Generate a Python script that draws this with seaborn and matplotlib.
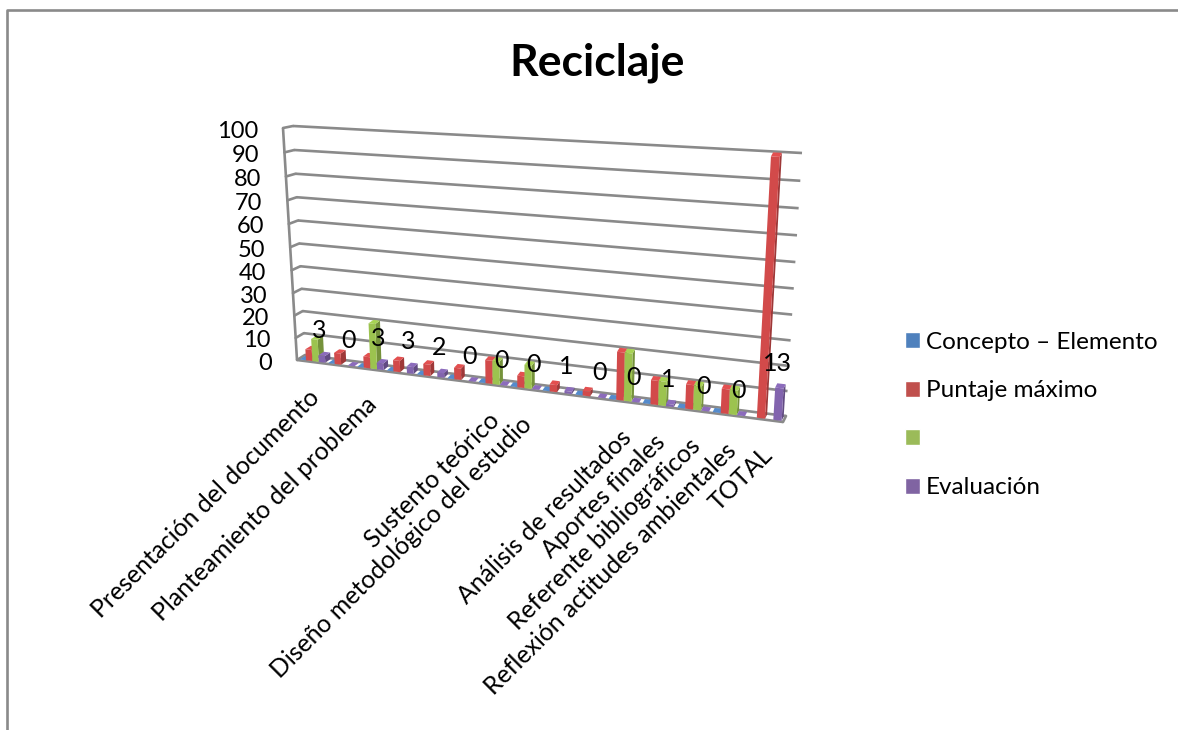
"""
Reciclaje: Excel-style 3D column chart, seaborn bars pushed through a perspective transform.
"""

import numpy as np
import pandas as pd
import seaborn as sns
import matplotlib.pyplot as plt
from matplotlib.lines import Line2D
from matplotlib.patches import Patch, Polygon
from matplotlib.transforms import IdentityTransform, Transform

WIDTH, HEIGHT = 1178, 730

titulo = "Reciclaje"
categorias = [
    "Presentación del documento", "", "Planteamiento del problema", "", "", "",
    "Sustento teórico", "Diseño metodológico del estudio", "", "",
    "Análisis de resultados", "Aportes finales", "Referente bibliográficos",
    "Reflexión actitudes ambientales", "TOTAL",
]
series = ["Concepto – Elemento", "Puntaje máximo", " ", "Evaluación"]
concepto = [0, 0, 0, 0, 0, 0, 0, 0, 0, 0, 0, 0, 0, 0, np.nan]
puntaje = [5, 5, 5, 5, 5, 5, 10, 5, 3, 2, 20, 10, 10, 10, 100]
sin_nombre = [10, np.nan, 20, np.nan, np.nan, np.nan, 10, 10, np.nan, np.nan,
              20, 10, 10, 10, np.nan]
evaluacion = [3, 0, 3, 3, 2, 0, 0, 0, 1, 0, 0, 1, 0, 0, 13]
valores_eje = [0, 10, 20, 30, 40, 50, 60, 70, 80, 90, 100]

colores_leyenda = ["#4F81BD", "#C0504D", "#9BBB59", "#8064A2"]
colores_barras = ["#4F81BD", "#D24A4A", "#9CC34F", "#8264AE"]
GRIS = "#8A8A8A"
ANCHO_GRUPO = 0.9

# pixel corners of the chart box: (bottom left, top left, top right, bottom right)
PLANO_FRENTE = [(297, 360), (283, 128), (799, 159), (783, 422)]
PLANO_FONDO = [(305, 355), (293, 126), (802, 153), (786, 416)]
N = len(categorias)


def homography(corners):
    """Matrix that sends the unit square to the four given pixel corners."""
    unit = [(0, 0), (0, 1), (1, 1), (1, 0)]
    a, b = [], []
    for (u, t), (px, py) in zip(unit, corners):
        a.append([u, t, 1, 0, 0, 0, -u * px, -t * px])
        a.append([0, 0, 0, u, t, 1, -u * py, -t * py])
        b += [px, py]
    return np.append(np.linalg.solve(np.array(a, float), np.array(b, float)), 1).reshape(3, 3)


class Perspectiva(Transform):
    """(category position, value) to display pixels, at a depth from 0 (front) to 1 (back)."""
    input_dims = 2
    output_dims = 2

    def __init__(self, profundidad):
        super().__init__()
        corners = (1 - profundidad) * np.array(PLANO_FRENTE, float) + profundidad * np.array(PLANO_FONDO, float)
        self.h = homography(corners)

    def transform_non_affine(self, values):
        values = np.asarray(values, float)
        u = (values[:, 0] + 0.5) / N
        t = values[:, 1] / 100
        p = self.h @ np.vstack([u, t, np.ones_like(u)])
        return np.column_stack([p[0] / p[2], HEIGHT - p[1] / p[2]])


def shade(color, factor):
    return tuple(min(1, c * factor) for c in color[:3])


sns.set_theme(style="white")
plt.rcParams["font.family"] = ["Lato", "DejaVu Sans"]

df = pd.DataFrame({"pos": range(N), series[0]: concepto, series[1]: puntaje,
                   series[2]: sin_nombre, series[3]: evaluacion})
long_df = df.melt(id_vars="pos", var_name="serie", value_name="valor")

fig = plt.figure(figsize=(WIDTH / 100, HEIGHT / 100), dpi=100, facecolor="white")
ax = fig.add_axes([0, 0, 1, 1])
ax.set_axis_off()

sns.barplot(data=long_df, x="pos", y="valor", hue="serie", hue_order=series,
            palette=colores_barras, width=ANCHO_GRUPO, gap=0, saturation=1, errorbar=None,
            legend=False, linewidth=0, ax=ax)

frente, fondo = Perspectiva(0), Perspectiva(1)
cara, atras = Perspectiva(0.15), Perspectiva(0.85)

# walls and floor
lineas = dict(color=GRIS, lw=1.9, clip_on=False, zorder=1)
ax.hlines(valores_eje, -0.5, N - 0.5, transform=fondo, **lineas)
ax.vlines(-0.5, 0, 100, transform=frente, **lineas)
ax.hlines(0, -0.5, N - 0.5, transform=frente, **lineas)
for x, v in [(-0.5, v) for v in valores_eje] + [(N - 0.5, 0)]:
    a, b = frente.transform([(x, v)])[0], fondo.transform([(x, v)])[0]
    ax.add_line(Line2D([a[0], b[0]], [a[1], b[1]], transform=IdentityTransform(), **lineas))

# front faces come from seaborn, sides and tops are added from each bar's geometry
for bar in list(ax.patches):
    x0, w, v = bar.get_x(), bar.get_width(), bar.get_height()
    color = bar.get_facecolor()
    bar.set_transform(cara)
    bar.set_clip_on(False)
    bar.set_zorder(4)
    x1 = x0 + w
    top = np.vstack([cara.transform([(x0, v), (x1, v)]), atras.transform([(x1, v), (x0, v)])])
    side = np.vstack([cara.transform([(x1, 0), (x1, v)]), atras.transform([(x1, v), (x1, 0)])])
    ax.add_patch(Polygon(side, transform=IdentityTransform(), facecolor=shade(color, 0.75),
                         lw=0, clip_on=False, zorder=3))
    ax.add_patch(Polygon(top, transform=IdentityTransform(), facecolor=shade(color, 1.08),
                         lw=0, clip_on=False, zorder=3))

# value labels float above the Evaluación column
ancho_barra = ANCHO_GRUPO / 4
for i, v in enumerate(evaluacion):
    ax.annotate(str(v), xy=(i + 1.5 * ancho_barra, v), xycoords=cara, xytext=(-2, 25),
                textcoords="offset pixels", ha="center", va="center",
                fontsize=18, color="black", zorder=6, annotation_clip=False)

for v in valores_eje:
    ax.annotate(str(v), xy=(-0.5, v), xycoords=frente, xytext=(-25, -3),
                textcoords="offset pixels", ha="right", va="center",
                fontsize=17, color="black", annotation_clip=False)

for i, nombre in enumerate(categorias):
    if nombre:
        ax.annotate(nombre, xy=(i, 0), xycoords=frente, xytext=(4, -32),
                    textcoords="offset pixels", ha="right", va="center", rotation=45,
                    rotation_mode="anchor", fontsize=17.8, color="black", annotation_clip=False)

fig.text(597 / WIDTH, 1 - 63 / HEIGHT, titulo, ha="center", va="center",
         fontsize=32, fontweight="bold", color="black")

handles = [Patch(facecolor=c, label=s) for c, s in zip(colores_leyenda, series)]
fig.legend(handles=handles, loc="center left", bbox_to_anchor=(883 / WIDTH, 1 - 415 / HEIGHT),
           frameon=False, fontsize=17.5, handlelength=0.62, handleheight=0.62,
           handletextpad=0.25, labelspacing=1.13, labelcolor="black")

# outer chart border, only top and left fall inside the crop
fig.add_artist(Line2D([7 / WIDTH, 7 / WIDTH, 1], [0, 1 - 10 / HEIGHT, 1 - 10 / HEIGHT],
                      color=GRIS, lw=1.9))

fig.savefig("out.png", dpi=100, facecolor="white")
